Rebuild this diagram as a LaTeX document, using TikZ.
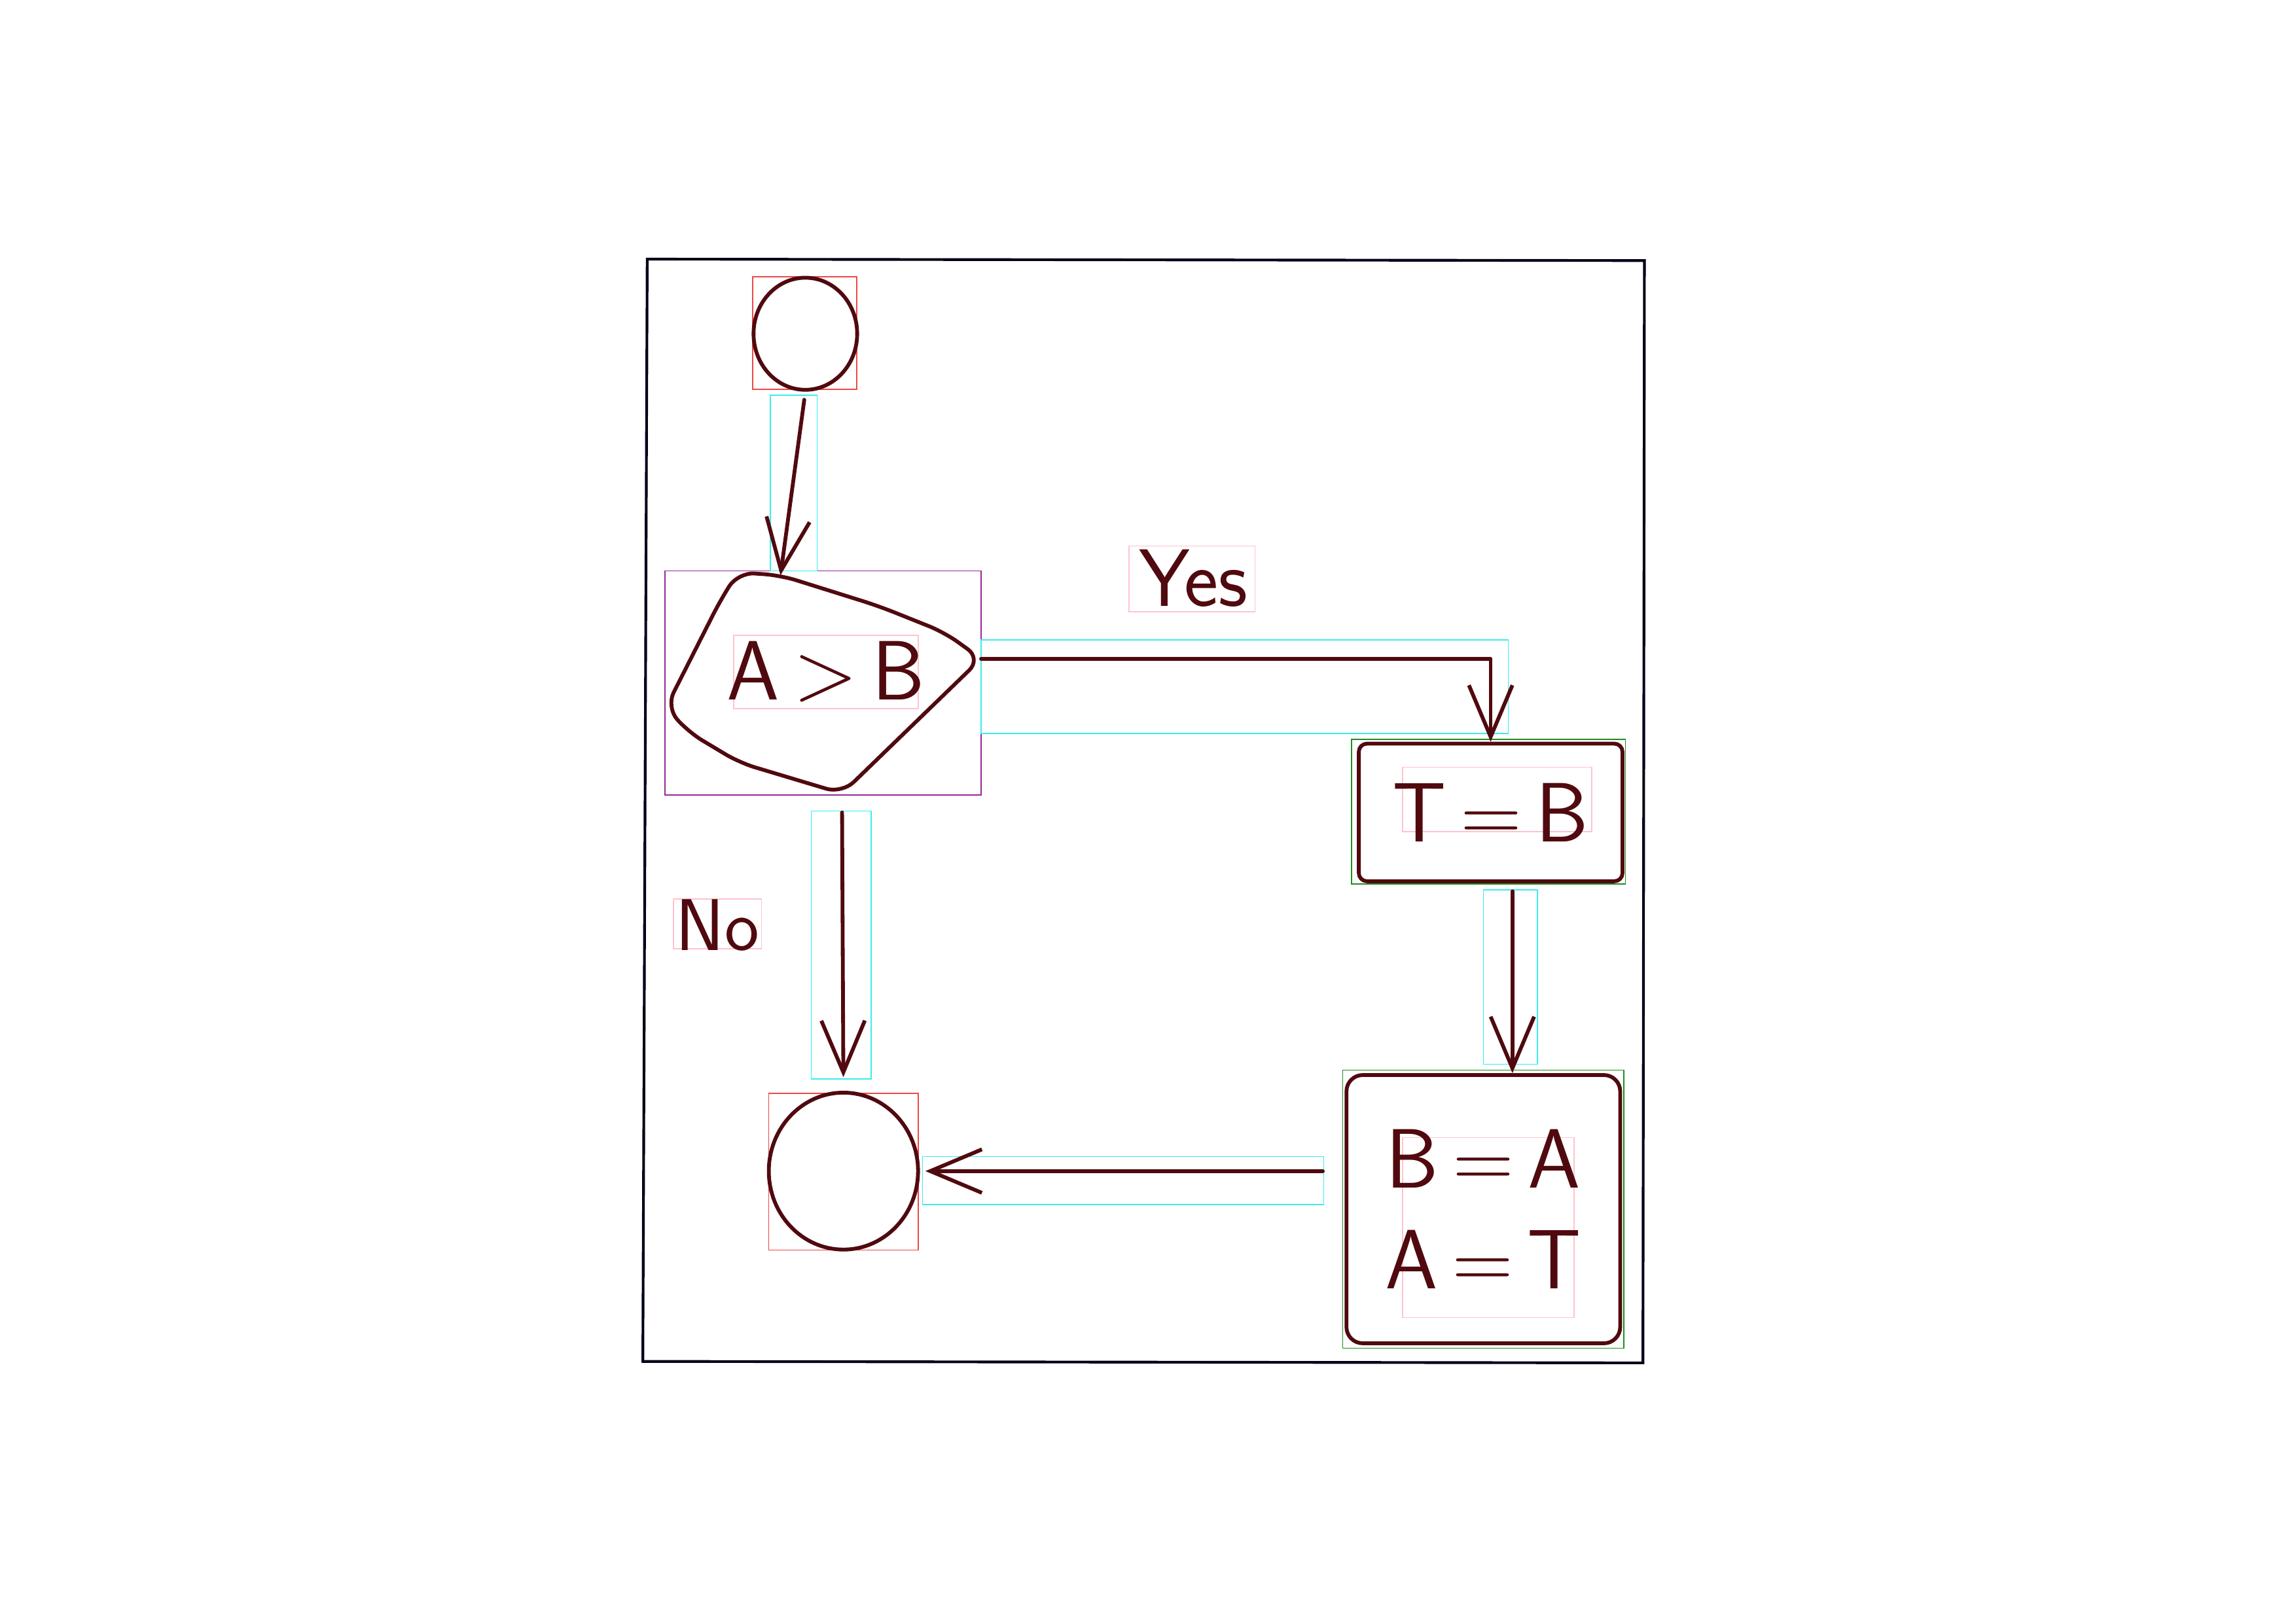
\documentclass[tikz,border=0pt]{standalone}
\usetikzlibrary{arrows.meta,shapes.geometric}
\definecolor{inkc}{RGB}{80,10,15}
\definecolor{annocyan}{RGB}{60,235,235}
\definecolor{annored}{RGB}{240,70,70}
\definecolor{annopink}{RGB}{255,195,205}
\definecolor{annogreen}{RGB}{30,140,30}
\definecolor{annopurple}{RGB}{150,40,150}

\begin{document}
\begin{tikzpicture}[x=0.018941cm, y=-0.018941cm,
		ink/.style={draw=inkc, line width=1.4pt, line cap=round, line join=round},
		arr/.style={ink, -{Straight Barb[length=19pt,width=16pt]}},
		hand/.style={font=\sffamily\fontsize{31}{37}\selectfont, text=inkc, align=center},
		anno/.style={line width=0.4pt}]
		\useasboundingbox (0,0) rectangle (1568,1109);
		\draw[line width=1pt, draw=black!90!blue] (442,177) -- (1123,178) -- (1122,931) -- (439,930) -- cycle;
		\begin{scope}[anno]
		\draw[annored]    (514,189) rectangle (585,266);
		\draw[annored]    (525,747) rectangle (627,854);
		\draw[annopurple] (454,390) rectangle (670,543);
		\draw[annogreen]  (923,505) rectangle (1110,604);
		\draw[annogreen]  (917,731) rectangle (1109,921);
		\draw[annocyan]   (526,270) rectangle (558,390);
		\draw[annocyan]   (670,437) rectangle (1030,501);
		\draw[annocyan]   (1013,608) rectangle (1050,727);
		\draw[annocyan]   (630,790) rectangle (904,823);
		\draw[annocyan]   (554,554) rectangle (595,737);
		\draw[annopink]   (501,434) rectangle (627,484);
		\draw[annopink]   (958,524) rectangle (1087,568);
		\draw[annopink]   (958,777) rectangle (1075,900);
		\draw[annopink]   (771,373) rectangle (857,418);
		\draw[annopink]   (460,614) rectangle (520,648);
		\end{scope}
		\node (start) at (550,228)
		[ellipse, ink, minimum width=1.34cm, minimum height=1.45cm] {};
		\coordinate (dtop)   at (533,393);
		\coordinate (dright) at (670,450);
		\coordinate (dbot)   at (575,542);
		\draw[ink, rounded corners=6pt] (504,391) -- (dtop) -- (600,414) -- (645,432)
			-- (dright) -- (dbot) -- (505,521) -- (470,500) -- (455,483) -- (492,410) -- cycle;
		\node (cond) at (564,459) [hand] {A\,>\,B};
		\node (tb) at (1018,555)
		[rectangle, ink, minimum width=3.41cm, minimum height=1.78cm, rounded corners=3pt]
		[hand] {T\,=\,B};
		\node (swap) at (1013,826)
		[rectangle, ink, minimum width=3.54cm, minimum height=3.47cm, rounded corners=6pt]
		[hand] {B\,=\,A \\ A\,=\,T};
		\node (finish) at (576,800)
		[ellipse, ink, minimum width=1.93cm, minimum height=2.03cm] {};
		\node (yes) at (815,395) [hand, font=\sffamily\fontsize{30}{32}\selectfont] {Yes};
		\node (no)  at (490,632) [hand, font=\sffamily\fontsize{27}{30}\selectfont] {No};
		\draw[arr, shorten <=3pt] (start.south) -- (dtop);
		\draw[arr] (dright) -| (tb.north);
		\draw[arr, shorten <=3pt] ([xshift=8pt]tb.south) -- ([xshift=8pt]tb.south |- swap.north);
		\draw[arr, shorten <=8pt, shorten >=2pt] (finish.east -| swap.west) -- (finish.east);
		\draw[arr, shorten <=7pt, shorten >=5pt] (dbot) -- (finish.north);
		\end{tikzpicture}
\end{document}
